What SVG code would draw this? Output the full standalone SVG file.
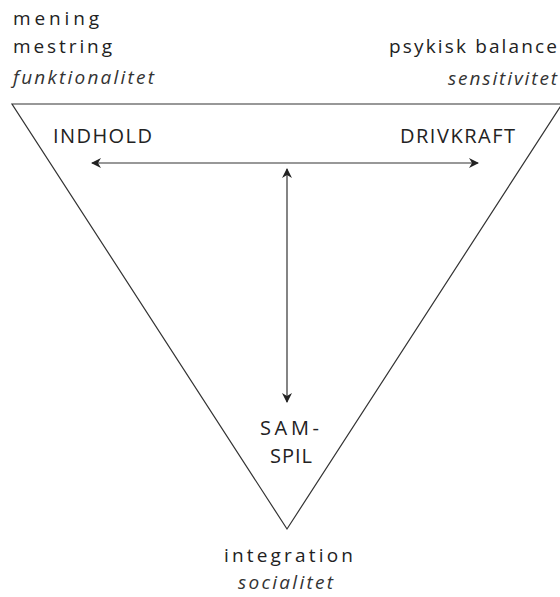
<svg xmlns="http://www.w3.org/2000/svg" width="560" height="597" viewBox="0 0 560 597">
<defs>
<style>
.t{font-family:"Open Sans","DejaVu Sans",sans-serif;font-size:19px;fill:#222}
.i{font-style:italic;font-size:19px;fill:#333}
.c{font-family:"Open Sans","DejaVu Sans",sans-serif;font-size:20px;fill:#222}
.ln{stroke:#333;stroke-width:1.2;fill:none}
</style>
<marker id="ah" viewBox="0 0 10 10" refX="9" refY="5" markerWidth="10" markerHeight="10" markerUnits="userSpaceOnUse" orient="auto-start-reverse">
<path d="M0,0 L10,5 L0,10 L3,5 Z" fill="#222"/>
</marker>
</defs>
<rect width="560" height="597" fill="#fff"/>
<g id="triangle">
<path class="ln" d="M12,104 L562,104 L287,529 Z"/>
</g>
<g id="labels-top-left">
<text class="t" x="13" y="25" textLength="86" lengthAdjust="spacing">mening</text>
<text class="t" x="13" y="53" textLength="99" lengthAdjust="spacing">mestring</text>
<text class="t i" x="13" y="84" textLength="141" lengthAdjust="spacing">funktionalitet</text>
</g>
<g id="labels-top-right">
<text class="t" x="389" y="53" textLength="168" lengthAdjust="spacing">psykisk balance</text>
<text class="t i" x="448" y="85" textLength="109" lengthAdjust="spacing">sensitivitet</text>
</g>
<g id="indhold"><text class="c" x="53" y="143" textLength="99" lengthAdjust="spacing">INDHOLD</text></g>
<g id="drivkraft"><text class="c" x="400" y="143" textLength="115" lengthAdjust="spacing">DRIVKRAFT</text></g>
<g id="samspil">
<text class="c" x="260" y="435" textLength="59" lengthAdjust="spacing">SAM-</text>
<text class="c" x="270" y="463" textLength="42" lengthAdjust="spacing">SPIL</text>
</g>
<g id="bottom">
<text class="t" x="224" y="562" textLength="129" lengthAdjust="spacing">integration</text>
<text class="t i" x="238" y="589" textLength="95" lengthAdjust="spacing">socialitet</text>
</g>
<g id="connectors">
<line class="ln" x1="92" y1="163" x2="478" y2="163" marker-start="url(#ah)" marker-end="url(#ah)"/>
<line class="ln" x1="287" y1="169" x2="287" y2="402" marker-start="url(#ah)" marker-end="url(#ah)"/>
</g>
</svg>
